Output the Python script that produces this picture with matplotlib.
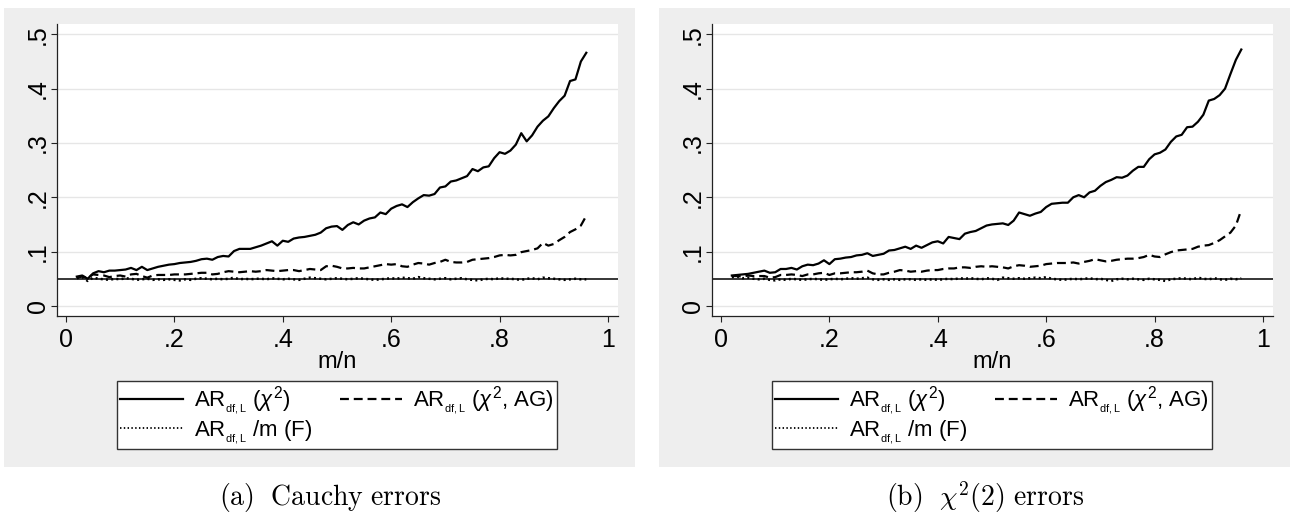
import matplotlib
matplotlib.use("Agg")
import matplotlib.pyplot as plt
from matplotlib.patches import Rectangle
from matplotlib.lines import Line2D

plt.rcParams['font.family'] = ['Liberation Sans', 'DejaVu Sans']
plt.rcParams['mathtext.fontset'] = 'custom'
plt.rcParams['mathtext.rm'] = 'Liberation Sans'
plt.rcParams['mathtext.it'] = 'Liberation Sans:italic'
plt.rcParams['mathtext.bf'] = 'Liberation Sans:bold'

# m/n grid of the simulation
m_over_n = [i / 100 for i in range(2, 97)]

# (a) Cauchy errors
cauchy_chi2 = [
    0.054, 0.056, 0.050, 0.060, 0.064, 0.062, 0.065, 0.065, 0.066, 0.067,
    0.070, 0.066, 0.072, 0.066, 0.069, 0.072, 0.074, 0.076, 0.077, 0.079,
    0.080, 0.081, 0.083, 0.086, 0.087, 0.085, 0.090, 0.092, 0.091, 0.101,
    0.105, 0.105, 0.105, 0.108, 0.111, 0.115, 0.119, 0.111, 0.120, 0.118,
    0.124, 0.126, 0.127, 0.129, 0.131, 0.135, 0.143, 0.146, 0.147, 0.140,
    0.149, 0.154, 0.150, 0.157, 0.161, 0.163, 0.172, 0.169, 0.179, 0.184,
    0.187, 0.182, 0.191, 0.198, 0.204, 0.203, 0.206, 0.218, 0.220, 0.229,
    0.231, 0.235, 0.239, 0.252, 0.248, 0.255, 0.257, 0.272, 0.283, 0.280,
    0.286, 0.297, 0.318, 0.303, 0.314, 0.330, 0.341, 0.349, 0.364, 0.377,
    0.387, 0.414, 0.417, 0.450, 0.466]
cauchy_chi2_ag = [
    0.052, 0.054, 0.052, 0.058, 0.057, 0.056, 0.053, 0.055, 0.056, 0.054,
    0.058, 0.059, 0.055, 0.052, 0.056, 0.057, 0.057, 0.057, 0.058, 0.058,
    0.058, 0.059, 0.060, 0.061, 0.061, 0.058, 0.059, 0.062, 0.064, 0.063,
    0.062, 0.063, 0.064, 0.063, 0.064, 0.066, 0.065, 0.064, 0.065, 0.066,
    0.066, 0.064, 0.066, 0.068, 0.067, 0.066, 0.073, 0.074, 0.072, 0.069,
    0.069, 0.070, 0.069, 0.069, 0.071, 0.073, 0.075, 0.077, 0.076, 0.077,
    0.073, 0.072, 0.076, 0.079, 0.078, 0.076, 0.079, 0.081, 0.085, 0.081,
    0.080, 0.080, 0.081, 0.085, 0.086, 0.087, 0.088, 0.090, 0.093, 0.094,
    0.093, 0.094, 0.099, 0.101, 0.103, 0.106, 0.116, 0.111, 0.114, 0.121,
    0.127, 0.136, 0.141, 0.148, 0.166]
cauchy_f = [
    0.051, 0.053, 0.046, 0.052, 0.050, 0.049, 0.048, 0.050, 0.049, 0.051,
    0.050, 0.048, 0.049, 0.050, 0.048, 0.049, 0.048, 0.049, 0.048, 0.047,
    0.049, 0.048, 0.050, 0.051, 0.050, 0.049, 0.050, 0.049, 0.050, 0.052,
    0.049, 0.050, 0.049, 0.050, 0.050, 0.049, 0.051, 0.050, 0.049, 0.050,
    0.049, 0.048, 0.050, 0.052, 0.051, 0.050, 0.049, 0.050, 0.051, 0.050,
    0.049, 0.050, 0.051, 0.050, 0.049, 0.048, 0.049, 0.050, 0.051, 0.050,
    0.052, 0.051, 0.050, 0.053, 0.051, 0.050, 0.049, 0.050, 0.051, 0.049,
    0.050, 0.051, 0.049, 0.048, 0.047, 0.049, 0.050, 0.049, 0.051, 0.050,
    0.050, 0.049, 0.048, 0.050, 0.051, 0.049, 0.052, 0.051, 0.050, 0.049,
    0.048, 0.049, 0.050, 0.049, 0.049]

# (b) chi2(2) errors
chisq_chi2 = [
    0.056, 0.057, 0.058, 0.059, 0.061, 0.063, 0.065, 0.061, 0.062, 0.068,
    0.068, 0.070, 0.067, 0.073, 0.076, 0.075, 0.078, 0.084, 0.077, 0.086,
    0.087, 0.089, 0.090, 0.093, 0.094, 0.097, 0.092, 0.094, 0.096, 0.102,
    0.103, 0.106, 0.109, 0.105, 0.111, 0.107, 0.112, 0.117, 0.119, 0.115,
    0.127, 0.125, 0.123, 0.133, 0.136, 0.138, 0.143, 0.148, 0.150, 0.151,
    0.152, 0.149, 0.157, 0.172, 0.169, 0.166, 0.170, 0.173, 0.182, 0.188,
    0.189, 0.190, 0.190, 0.200, 0.204, 0.200, 0.209, 0.212, 0.221, 0.228,
    0.232, 0.237, 0.236, 0.240, 0.249, 0.256, 0.256, 0.270, 0.279, 0.282,
    0.288, 0.302, 0.312, 0.315, 0.329, 0.330, 0.339, 0.352, 0.378, 0.381,
    0.388, 0.400, 0.427, 0.453, 0.472]
chisq_chi2_ag = [
    0.055, 0.055, 0.054, 0.056, 0.055, 0.055, 0.055, 0.052, 0.053, 0.057,
    0.057, 0.058, 0.057, 0.055, 0.058, 0.058, 0.060, 0.061, 0.057, 0.060,
    0.060, 0.061, 0.062, 0.062, 0.063, 0.065, 0.060, 0.058, 0.058, 0.061,
    0.063, 0.066, 0.065, 0.063, 0.064, 0.063, 0.065, 0.066, 0.066, 0.068,
    0.069, 0.069, 0.071, 0.071, 0.070, 0.072, 0.073, 0.072, 0.073, 0.072,
    0.071, 0.069, 0.073, 0.075, 0.074, 0.072, 0.073, 0.074, 0.077, 0.078,
    0.079, 0.079, 0.079, 0.080, 0.078, 0.081, 0.083, 0.086, 0.084, 0.082,
    0.083, 0.085, 0.086, 0.087, 0.087, 0.088, 0.090, 0.094, 0.091, 0.090,
    0.095, 0.099, 0.102, 0.103, 0.104, 0.105, 0.109, 0.111, 0.112, 0.116,
    0.121, 0.128, 0.135, 0.148, 0.177]
chisq_f = [
    0.053, 0.054, 0.051, 0.052, 0.050, 0.049, 0.050, 0.048, 0.047, 0.049,
    0.048, 0.050, 0.049, 0.048, 0.049, 0.050, 0.049, 0.048, 0.049, 0.050,
    0.049, 0.050, 0.051, 0.050, 0.051, 0.052, 0.049, 0.048, 0.049, 0.048,
    0.049, 0.048, 0.049, 0.049, 0.048, 0.049, 0.048, 0.049, 0.048, 0.049,
    0.050, 0.049, 0.051, 0.050, 0.051, 0.050, 0.049, 0.051, 0.050, 0.048,
    0.052, 0.051, 0.050, 0.051, 0.050, 0.051, 0.052, 0.051, 0.053, 0.050,
    0.049, 0.048, 0.049, 0.050, 0.049, 0.050, 0.051, 0.049, 0.050, 0.048,
    0.046, 0.049, 0.050, 0.049, 0.050, 0.049, 0.048, 0.050, 0.049, 0.048,
    0.046, 0.049, 0.050, 0.051, 0.050, 0.049, 0.052, 0.050, 0.049, 0.051,
    0.049, 0.048, 0.050, 0.049, 0.051]

nominal_level = 0.05
y_ticks = [0, 0.1, 0.2, 0.3, 0.4, 0.5]
y_labels = ['0', '.1', '.2', '.3', '.4', '.5']
x_ticks = [0, 0.2, 0.4, 0.6, 0.8, 1.0]
x_labels = ['0', '.2', '.4', '.6', '.8', '1']

label_chi2 = r'AR$_{_{\mathregular{df,L}}}$ ($\chi^{2}$)'
label_ag = r'AR$_{_{\mathregular{df,L}}}$ ($\chi^{2}$, AG)'
label_f = r'AR$_{_{\mathregular{df,L}}}$ /m (F)'

W, H = 1290, 516
fig = plt.figure(figsize=(W / 100, H / 100), dpi=100)
fig.patch.set_facecolor('white')

DASH = (0, (4, 2.2))
DOT = (0, (0.8, 1.3))


def draw_panel(x0, solid, dashed, dotted, caption):
    # gray graph region, kept behind the axes
    fig.patches.append(Rectangle((x0 / W, 1 - 467 / H), 631 / W, 459 / H,
                                 transform=fig.transFigure, facecolor='#EEEEEE',
                                 edgecolor='none', zorder=-10))
    ax = fig.add_axes([(x0 + 53) / W, 1 - 315.7 / H, 561 / W, 291.7 / H])
    ax.set_zorder(1)
    ax.set_facecolor('white')
    ax.set_xlim(-0.0166, 1.0185)
    ax.set_ylim(-0.018, 0.519)
    for y in y_ticks:
        ax.axhline(y, color='#E6E6E6', lw=1.0, zorder=1)
    ax.axhline(nominal_level, color='black', lw=1.1, zorder=2)
    ax.plot(m_over_n, dotted, color='black', lw=1.8, linestyle=DOT, zorder=3)
    ax.plot(m_over_n, dashed, color='black', lw=1.6, linestyle=DASH, zorder=3)
    ax.plot(m_over_n, solid, color='black', lw=1.6, zorder=4)

    for s in ['top', 'right']:
        ax.spines[s].set_visible(False)
    for s in ['left', 'bottom']:
        ax.spines[s].set_color('#222222')
        ax.spines[s].set_linewidth(0.9)
    ax.set_yticks(y_ticks)
    ax.set_yticklabels(y_labels, rotation=90, va='center')
    ax.set_xticks(x_ticks)
    ax.set_xticklabels(x_labels)
    ax.tick_params(axis='both', labelsize=18, length=4, width=0.8,
                   color='#222222', direction='out')
    ax.tick_params(axis='y', pad=1)
    ax.tick_params(axis='x', pad=5)
    ax.set_xlabel('m/n', fontsize=17, labelpad=-1)

    handles = [Line2D([], [], color='black', lw=1.6),
               Line2D([], [], color='black', lw=1.3, linestyle=DOT),
               Line2D([], [], color='black', lw=1.6, linestyle=DASH)]
    labels = [label_chi2, label_f, label_ag]
    leg = ax.legend(handles, labels, ncol=2, mode='expand', loc='upper center',
                    bbox_to_anchor=((x0 + 113) / W, 1 - 381 / H, 440 / W, 0),
                    bbox_transform=fig.transFigure, fontsize=16,
                    frameon=True, fancybox=False, framealpha=1,
                    handlelength=2.8, handletextpad=0.5, labelspacing=0.0,
                    borderpad=0.15, borderaxespad=0)
    leg.get_frame().set_edgecolor('#333333')
    leg.get_frame().set_linewidth(1.0)

    fig.text((x0 + 326) / W, 1 - 497 / H, caption, fontsize=20,
             math_fontfamily='cm', ha='center', va='center')
    return ax


draw_panel(4, cauchy_chi2, cauchy_chi2_ag, cauchy_f,
           r'$\mathrm{(a)\ \ Cauchy\ errors}$')
draw_panel(659, chisq_chi2, chisq_chi2_ag, chisq_f,
           r'$\mathrm{(b)}\ \ \chi^{2}(2)\ \mathrm{errors}$')

fig.savefig('out.png', dpi=100, facecolor='white')
